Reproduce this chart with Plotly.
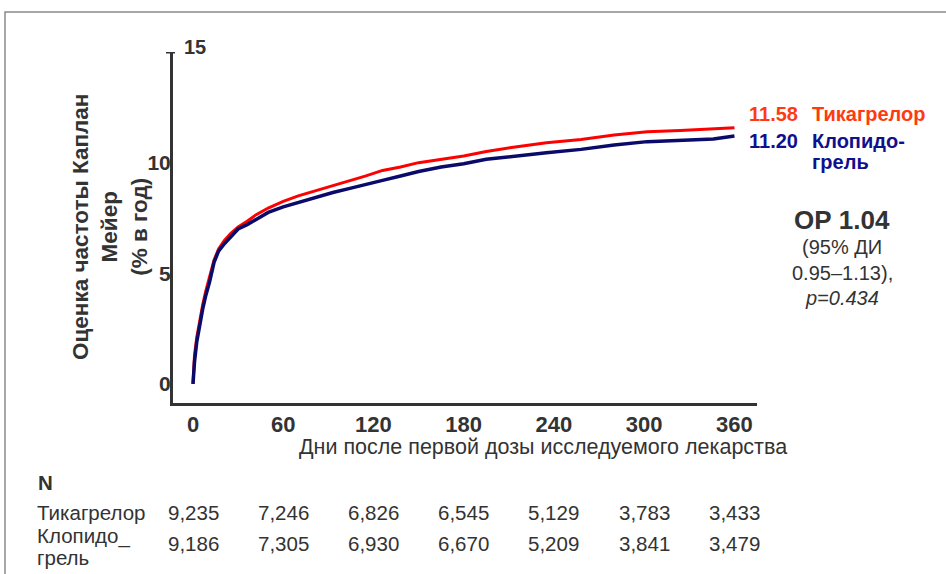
import plotly.graph_objects as go

# Kaplan-Meier cumulative event rate (% per year) by day since first dose
days_tica = [0, 1, 2.5, 4.5, 6.5, 8.5, 11, 14, 17, 21, 25, 30, 36, 42, 50, 60, 70, 80, 93,
             105, 115, 126, 138, 150, 165, 180, 195, 213, 235, 258, 280, 302, 324, 346, 360]
rate_tica = [0, 1.3, 2.1, 2.9, 3.6, 4.2, 4.8, 5.6, 6.1, 6.5, 6.8, 7.1, 7.35, 7.65, 7.95, 8.25,
             8.5, 8.7, 8.95, 9.2, 9.4, 9.65, 9.8, 10.0, 10.15, 10.3, 10.5, 10.7, 10.9, 11.05,
             11.25, 11.4, 11.45, 11.52, 11.58]

days_clop = [0, 1, 2.5, 4.5, 6.5, 8.5, 11, 14, 17, 21, 25, 30, 36, 42, 50, 60, 70, 80, 93,
             105, 115, 126, 138, 150, 165, 180, 195, 213, 235, 258, 280, 302, 324, 346, 360]
rate_clop = [0, 1.0, 1.9, 2.7, 3.4, 4.0, 4.6, 5.5, 6.0, 6.35, 6.65, 7.0, 7.2, 7.45, 7.75, 8.0,
             8.2, 8.4, 8.65, 8.85, 9.0, 9.2, 9.4, 9.6, 9.8, 9.95, 10.15, 10.3, 10.45, 10.6,
             10.8, 10.95, 11.0, 11.07, 11.20]

x_ticks = [0, 60, 120, 180, 240, 300, 360]
y_ticks = [0, 5, 10]

# Numbers at risk
risk_tica = ["9,235", "7,246", "6,826", "6,545", "5,129", "3,783", "3,433"]
risk_clop = ["9,186", "7,305", "6,930", "6,670", "5,209", "3,841", "3,479"]

final_tica = "11.58"
final_clop = "11.20"

RED = "#ff0000"
NAVY = "#0a0a6b"
RED_TXT = "#ff3a12"
NAVY_TXT = "#10108f"
DARK = "#333333"
FONT = "Liberation Sans, Arial, sans-serif"

# plot area geometry (px)
L, R, T, B = 173, 757, 52, 403
W, H = 946, 574
PW, PH = R - L, B - T


def px_x(p):
    return (p - L) / PW


def px_y(p):
    return (B - p) / PH


fig = go.Figure()
fig.add_trace(go.Scatter(x=days_tica, y=rate_tica, mode="lines",
                         line=dict(color=RED, width=3), hoverinfo="skip", showlegend=False))
fig.add_trace(go.Scatter(x=days_clop, y=rate_clop, mode="lines",
                         line=dict(color=NAVY, width=3.5), hoverinfo="skip", showlegend=False))

ann = []
# y-axis title
ann.append(dict(text="Оценка частоты Каплан<br>Мейер<br>(% в год)", textangle=-90,
                xref="paper", yref="paper", x=px_x(110), y=px_y(227),
                xanchor="center", yanchor="middle", showarrow=False,
                font=dict(family=FONT, size=22.5, color=DARK, weight="bold")))
# top tick label "15"
ann.append(dict(text="15", xref="paper", yref="paper", x=px_x(182), y=px_y(47),
                xanchor="left", yanchor="middle", showarrow=False,
                font=dict(family=FONT, size=20, color=DARK, weight="bold")))
# end-of-curve labels
lab_font_t = dict(family=FONT, size=20, color=RED_TXT, weight="bold")
lab_font_c = dict(family=FONT, size=20, color=NAVY_TXT, weight="bold")
ann.append(dict(text=final_tica, xref="paper", yref="paper", x=px_x(747), y=px_y(114),
                xanchor="left", yanchor="middle", showarrow=False, font=lab_font_t))
ann.append(dict(text="Тикагрелор", xref="paper", yref="paper", x=px_x(810), y=px_y(114),
                xanchor="left", yanchor="middle", showarrow=False, font=lab_font_t))
ann.append(dict(text=final_clop, xref="paper", yref="paper", x=px_x(747), y=px_y(141),
                xanchor="left", yanchor="middle", showarrow=False, font=lab_font_c))
ann.append(dict(text="Клопидо-", xref="paper", yref="paper", x=px_x(810), y=px_y(141),
                xanchor="left", yanchor="middle", showarrow=False, font=lab_font_c))
ann.append(dict(text="грель", xref="paper", yref="paper", x=px_x(810), y=px_y(162),
                xanchor="left", yanchor="middle", showarrow=False, font=lab_font_c))
# hazard ratio block
ann.append(dict(text="ОР 1.04", xref="paper", yref="paper", x=px_x(842), y=px_y(220),
                xanchor="center", yanchor="middle", showarrow=False,
                font=dict(family=FONT, size=26, color=DARK, weight="bold")))
for txt, yy in [("(95% ДИ", 247), ("0.95–1.13),", 273), ("<i>p=0.434</i>", 298)]:
    ann.append(dict(text=txt, xref="paper", yref="paper", x=px_x(842), y=px_y(yy),
                    xanchor="center", yanchor="middle", showarrow=False,
                    font=dict(family=FONT, size=20, color=DARK)))
# x-axis title
ann.append(dict(text="Дни после первой дозы исследуемого лекарства", xref="paper", yref="paper",
                x=px_x(543), y=px_y(447), xanchor="center", yanchor="middle", showarrow=False,
                font=dict(family=FONT, size=21.5, color=DARK)))
# numbers-at-risk table
tab_font = dict(family=FONT, size=20.5, color=DARK)
ann.append(dict(text="<b>N</b>", xref="paper", yref="paper", x=px_x(36), y=px_y(482),
                xanchor="left", yanchor="middle", showarrow=False, font=tab_font))
ann.append(dict(text="Тикагрелор", xref="paper", yref="paper", x=px_x(35), y=px_y(512),
                xanchor="left", yanchor="middle", showarrow=False, font=tab_font))
ann.append(dict(text="Клопидо_", xref="paper", yref="paper", x=px_x(35), y=px_y(536),
                xanchor="left", yanchor="middle", showarrow=False, font=tab_font))
ann.append(dict(text="грель", xref="paper", yref="paper", x=px_x(35), y=px_y(557),
                xanchor="left", yanchor="middle", showarrow=False, font=tab_font))
for d, a, b in zip(x_ticks, risk_tica, risk_clop):
    ann.append(dict(text=a, xref="x", yref="paper", x=d, y=px_y(512),
                    xanchor="center", yanchor="middle", showarrow=False, font=tab_font))
    ann.append(dict(text=b, xref="x", yref="paper", x=d, y=px_y(543),
                    xanchor="center", yanchor="middle", showarrow=False, font=tab_font))

shapes = [
    # outer frame
    dict(type="rect", xref="paper", yref="paper", x0=px_x(5), x1=px_x(980),
         y0=px_y(620), y1=px_y(12), line=dict(color="#8a8a8a", width=1.5), layer="below"),
    # small dash beside the top tick label
    dict(type="line", xref="paper", yref="y", x0=px_x(166), x1=px_x(175), y0=15, y1=15,
         line=dict(color=DARK, width=3)),
]

fig.update_layout(
    width=W, height=H,
    margin=dict(l=L, r=W - R, t=T, b=H - B, pad=0),
    paper_bgcolor="white", plot_bgcolor="white",
    annotations=ann, shapes=shapes,
    xaxis=dict(range=[-13.3, 375], tickvals=x_ticks, ticks="", showgrid=False, zeroline=False,
               showline=True, linecolor=DARK, linewidth=3, ticklabelstandoff=0,
               tickfont=dict(family=FONT, size=22, color=DARK, weight="bold")),
    yaxis=dict(range=[-0.86, 15], tickvals=y_ticks, ticks="", showgrid=False, zeroline=False,
               showline=True, linecolor=DARK, linewidth=3, ticklabelstandoff=-5,
               tickfont=dict(family=FONT, size=21, color=DARK, weight="bold")),
)

fig.write_html("out.html")
